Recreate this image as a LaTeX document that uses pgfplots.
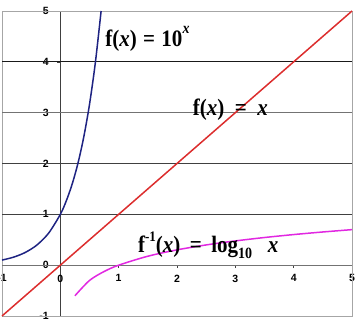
\documentclass[border=0pt]{standalone}
\usepackage{pgfplots}
\pgfplotsset{compat=1.18}
\usepackage{fontspec}
\setmainfont{Liberation Serif}
\newfontfamily\arialb{Liberation Sans}
\definecolor{navy}{RGB}{30,35,130}
\definecolor{fred}{RGB}{220,45,45}
\definecolor{fmag}{RGB}{225,40,225}
\newcommand{\lab}[1]{\scalebox{1}[1.12]{#1}}
\begin{document}
\begin{tikzpicture}
\begin{axis}[
  name=ax,
  scale only axis,
  width=350pt, height=305pt,
  xmin=-1, xmax=5, ymin=-1, ymax=5,
  axis lines=middle,
  axis line style={black!75, line width=0.8pt, -},
  xtick={-1,0,1,2,3,4,5},
  ytick={-1,0,1,2,3,4,5},
  hide obscured x ticks=false,
  hide obscured y ticks=false,
  tick align=outside,
  major tick length=3pt,
  tick style={black!75, line width=0.6pt},
  ticklabel style={font=\arialb\bfseries\fontsize{10.5}{10.5}\selectfont},
  /pgf/number format/assume math mode=true,
  xticklabel style={yshift=-3pt},
  yticklabel style={xshift=-5pt},
  clip=false,
]
% frame
\draw[black!35, line width=0.8pt] (rel axis cs:0,0) rectangle (rel axis cs:1,1);
% gridlines
\draw[black!90, line width=0.8pt] (axis cs:-1,4) -- (axis cs:5,4);
\draw[black!55, line width=0.8pt] (axis cs:-1,3) -- (axis cs:5,3);
\draw[black!75, line width=0.8pt] (axis cs:-1,2) -- (axis cs:5,2);
\draw[black!75, line width=0.8pt] (axis cs:-1,1) -- (axis cs:5,1);
\draw[black!55, line width=0.8pt] (axis cs:-1,0) -- (axis cs:5,0);
% y = x
\addplot[fred, line width=1.5pt] coordinates {(-1,-1) (5,5)};
% 10^x
\addplot[navy, line width=1.5pt, smooth] coordinates {
(-1,0.1) (-0.8,0.158) (-0.6,0.251) (-0.4,0.398) (-0.2,0.631) (0,1)
(0.1,1.259) (0.2,1.585) (0.3,1.995) (0.4,2.512) (0.5,3.162) (0.6,3.981) (0.699,5.0)};
% log10 x
\addplot[fmag, line width=1.5pt, smooth] coordinates {
(0.25,-0.602) (0.5,-0.301) (0.75,-0.125) (1,0) (1.5,0.176) (2,0.301) (2.5,0.398)
(3,0.477) (3.5,0.544) (4,0.602) (4.5,0.653) (5,0.699)};
% labels
\node[anchor=base west, inner sep=0pt, font=\bfseries\fontsize{21}{21}\selectfont] at (axis cs:0.77,4.3) {\lab{f(\textit{x})\hspace{0.3em}=\hspace{0.3em}10\raisebox{0.55em}{\fontsize{14}{14}\selectfont\textit{x}}}};
\node[anchor=base west, inner sep=0pt, font=\bfseries\fontsize{21}{21}\selectfont] at (axis cs:2.27,2.95) {\lab{f(\textit{x})\hspace{0.5em}=\hspace{0.5em}\textit{x}}};
\node[anchor=base west, inner sep=0pt, font=\bfseries\fontsize{21}{21}\selectfont] at (axis cs:1.33,0.25) {\lab{f\raisebox{0.45em}{\fontsize{13}{13}\selectfont -1}(\textit{x})\hspace{0.45em}=\hspace{0.45em}log\raisebox{-0.25em}{\fontsize{14}{14}\selectfont 10}\hspace{0.75em}\textit{x}}};
\end{axis}
\pgfresetboundingbox
\path[use as bounding box] ([shift={(-2pt,-4pt)}]ax.south west) rectangle ([shift={(5pt,11pt)}]ax.north east);
\end{tikzpicture}
\end{document}
